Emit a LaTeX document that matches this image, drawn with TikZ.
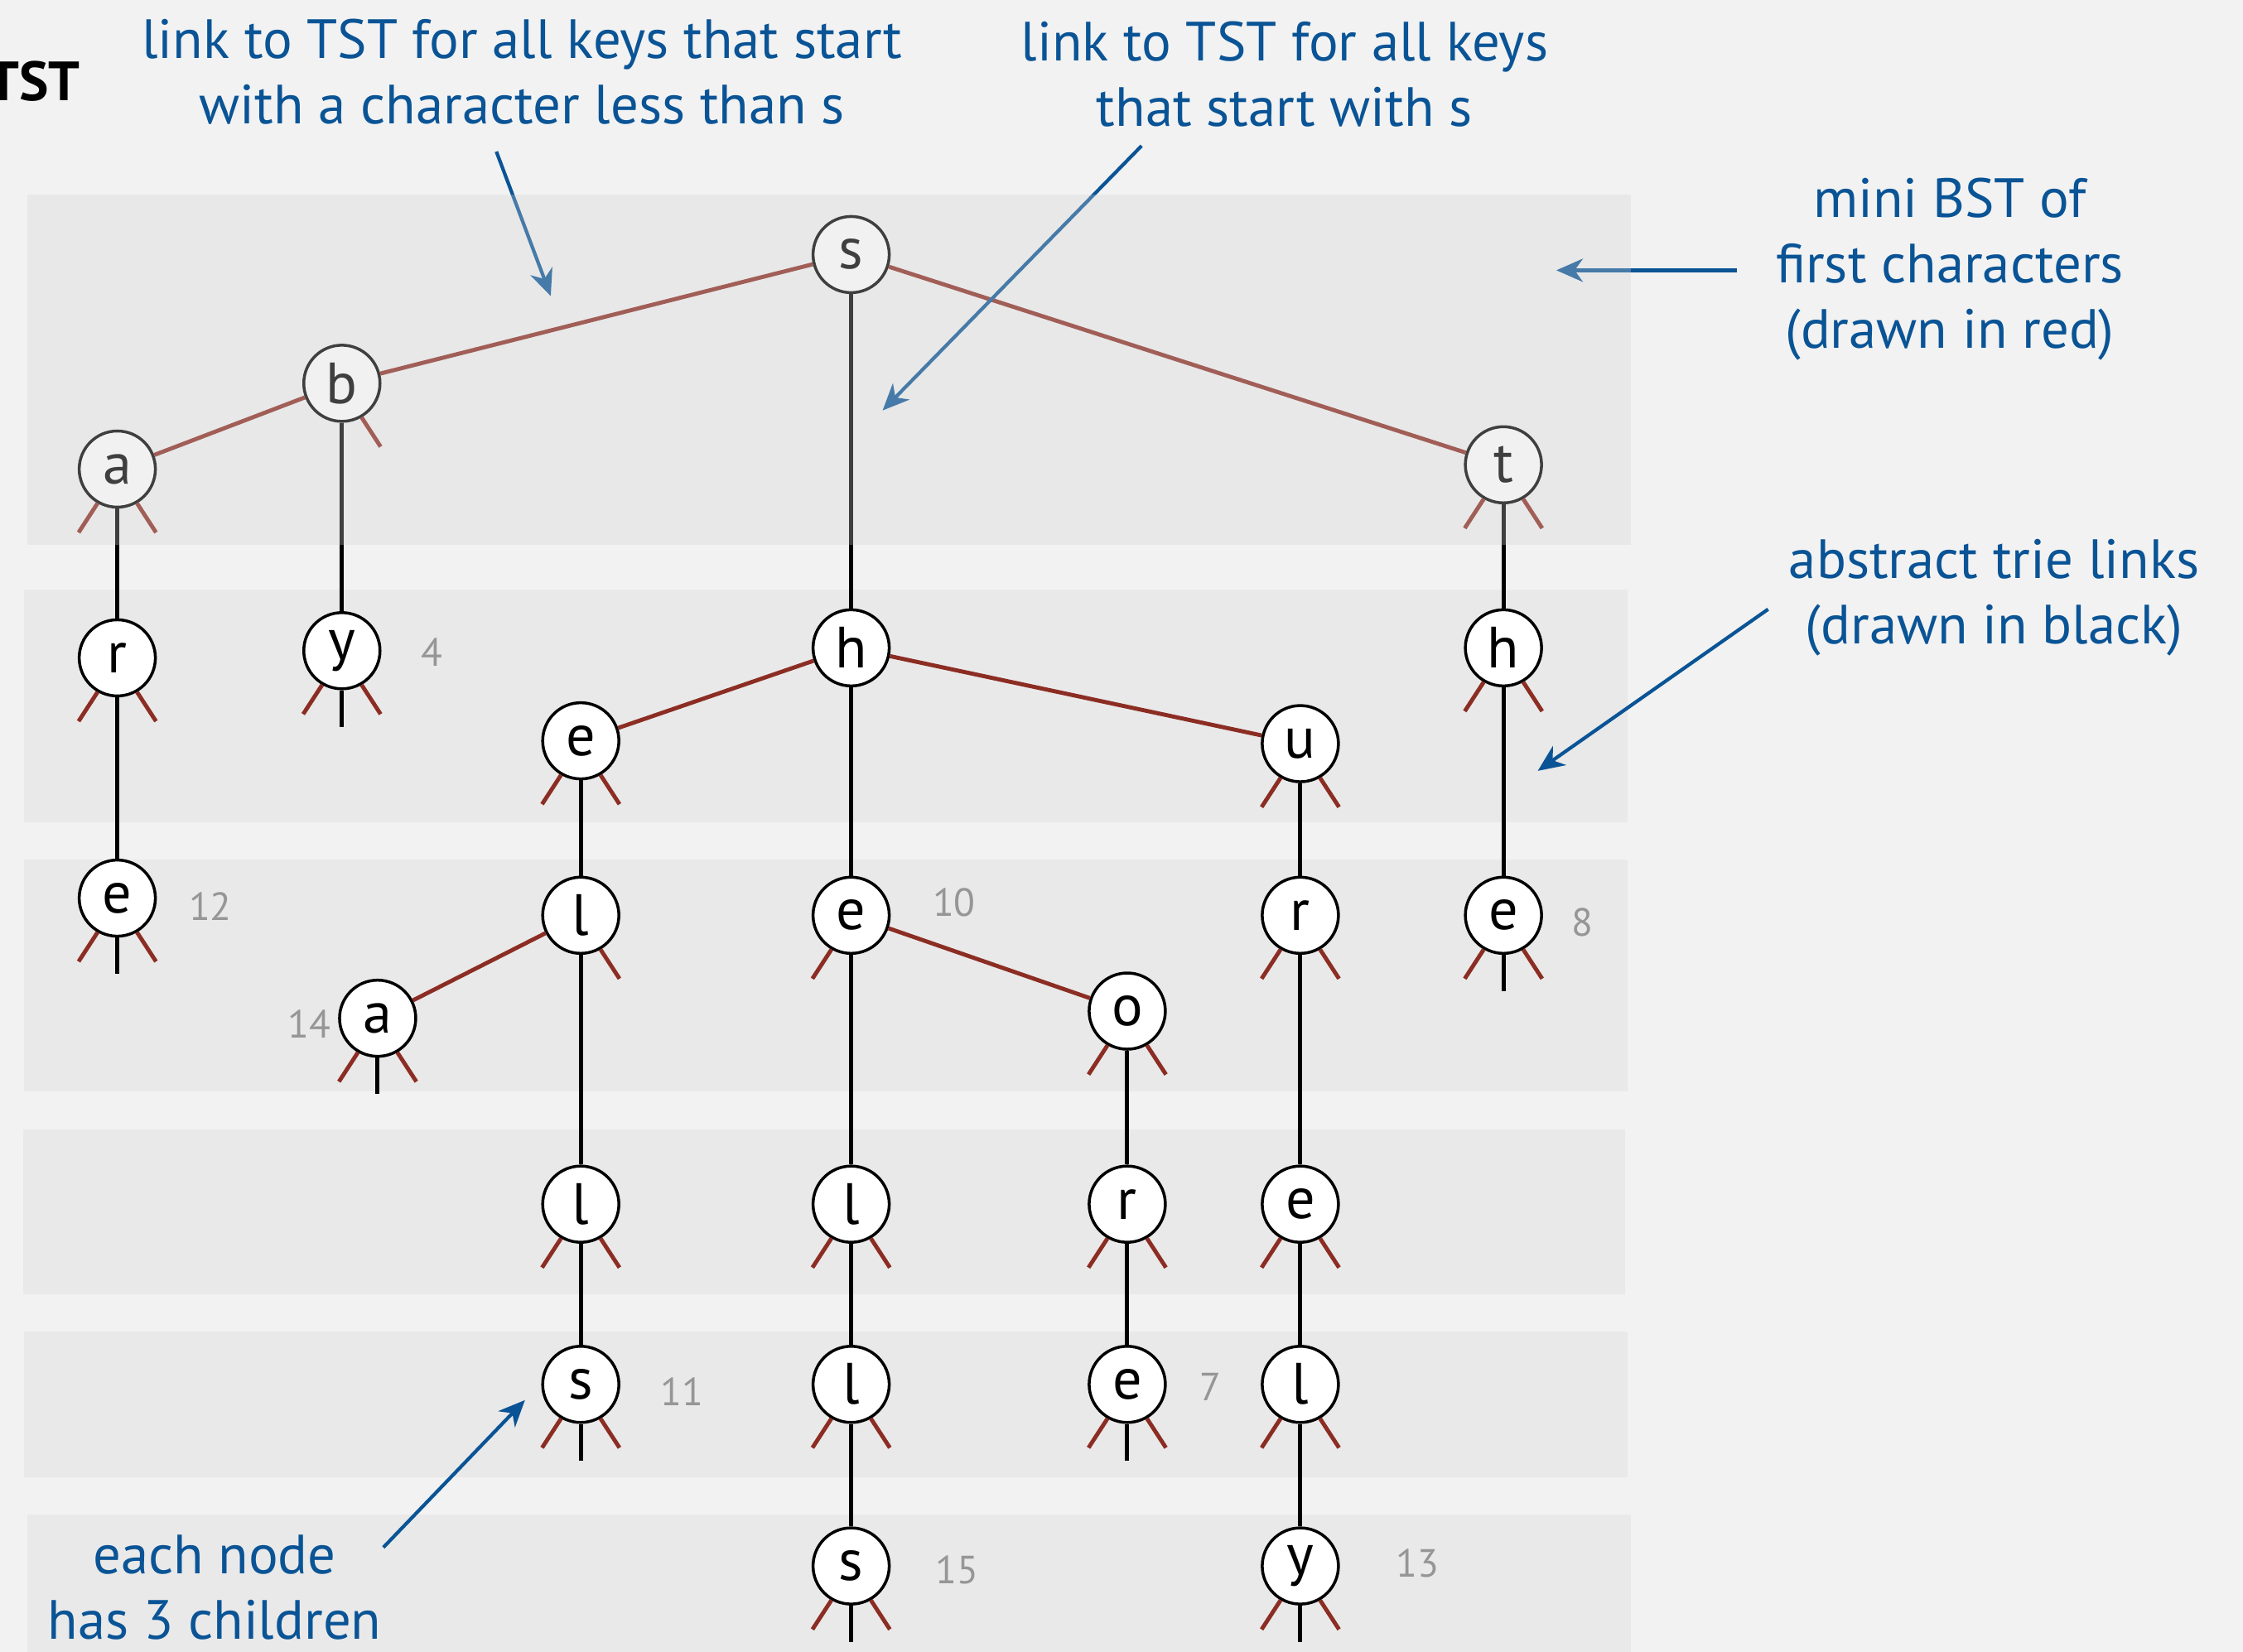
\documentclass[tikz,border=0pt]{standalone}
\usepackage{fontspec}
\setmainfont{PT Sans}
\usetikzlibrary{arrows.meta}

\definecolor{pagegray}{RGB}{242,242,242}
\definecolor{bandgray}{RGB}{233,233,233}
\definecolor{veilgray}{RGB}{210,210,210}
\definecolor{bstred}{RGB}{140,45,35}
\definecolor{noteblue}{RGB}{10,84,150}
\definecolor{valgray}{RGB}{150,150,150}

\tikzset{
  key/.style={circle, draw, line width=1pt, fill=white, minimum size=0.92cm,
    inner sep=0pt, font=\fontsize{20}{24}\selectfont},
  redlink/.style={bstred, line width=1.4pt},
  midlink/.style={black, line width=1.4pt},
  val/.style={valgray, font=\fontsize{13.5}{16}\selectfont},
  note/.style={noteblue, align=center, font=\fontsize{19}{22.5}\selectfont},
  notearrow/.style={noteblue, line width=1.2pt,
    -{Stealth[length=0.32cm,width=0.28cm,inset=0.1cm]}},
  band/.style={fill=bandgray, draw=none},
}

\begin{document}
\begin{tikzpicture}[x=0.01727cm, y=-0.01727cm]
    \useasboundingbox (0,0) rectangle (1568,1155);
    \fill[pagegray] (0,0) rectangle (1568,1155);

    % Draw the level bands
    \fill[band] (17,412) rectangle (1138,575);
    \fill[band] (17,601) rectangle (1138,763);
    \fill[band] (16,790) rectangle (1136,905);
    \fill[band] (17,931) rectangle (1138,1033);
    \fill[band] (19,1059) rectangle (1140,1160);

    % Draw the keys
    \node[key] (s) at (595,178) {s};
    \node[key] (b) at (239,268) {b};
    \node[key] (a) at (82,328) {a};
    \node[key] (t) at (1051,325) {t};
    \node[key] (ar) at (82,460) {r};
    \node[key] (by) at (239,455) {y};
    \node[key] (sh) at (595,453) {h};
    \node[key] (th) at (1051,453) {h};
    \node[key] (se) at (406,518) {e};
    \node[key] (su) at (909,520) {u};
    \node[key] (are) at (82,628) {e};
    \node[key] (sel) at (406,640) {l};
    \node[key] (she) at (595,640) {e};
    \node[key] (sur) at (909,640) {r};
    \node[key] (the) at (1051,640) {e};
    \node[key] (sea) at (264,712) {a};
    \node[key] (sho) at (788,707) {o};
    \node[key] (sell) at (406,842) {l};
    \node[key] (shel) at (595,842) {l};
    \node[key] (shor) at (788,842) {r};
    \node[key] (sure) at (909,842) {e};
    \node[key] (sells) at (406,968) {s};
    \node[key] (shell) at (595,968) {l};
    \node[key] (shore) at (788,968) {e};
    \node[key] (surel) at (909,968) {l};
    \node[key] (shells) at (595,1095) {s};
    \node[key] (surely) at (909,1095) {y};

    % Draw the values
    \node[val] (byv) at (302,456) {4};
    \node[val] (arev) at (147,634) {12};
    \node[val] (shev) at (667,631) {10};
    \node[val] (thev) at (1106,645) {8};
    \node[val] (seav) at (216,716) {14};
    \node[val] (sellsv) at (477,973) {11};
    \node[val] (shorev) at (846,970) {7};
    \node[val] (shellsv) at (669,1098) {15};
    \node[val] (surelyv) at (991,1093) {13};

    % Draw the left and right links
    \draw[redlink] (s) -- (b);
    \draw[redlink] (s) -- (t);
    \draw[redlink] (b) -- (a);
    \draw[redlink] (sh) -- (se);
    \draw[redlink] (sh) -- (su);
    \draw[redlink] (sel) -- (sea);
    \draw[redlink] (she) -- (sho);

    % Draw the middle links
    \draw[midlink] (s) -- (sh);
    \draw[midlink] (b) -- (by);
    \draw[midlink] (a) -- (ar);
    \draw[midlink] (ar) -- (are);
    \draw[midlink] (t) -- (th);
    \draw[midlink] (th) -- (the);
    \draw[midlink] (sh) -- (she);
    \draw[midlink] (se) -- (sel);
    \draw[midlink] (sel) -- (sell);
    \draw[midlink] (sell) -- (sells);
    \draw[midlink] (she) -- (shel);
    \draw[midlink] (shel) -- (shell);
    \draw[midlink] (shell) -- (shells);
    \draw[midlink] (sho) -- (shor);
    \draw[midlink] (shor) -- (shore);
    \draw[midlink] (su) -- (sur);
    \draw[midlink] (sur) -- (sure);
    \draw[midlink] (sure) -- (surel);
    \draw[midlink] (surel) -- (surely);

    % Draw null links
    \foreach \n in {a,t,ar,by,th,se,su,are,she,sur,the,sea,sho,sell,shel,shor,
                    sure,sells,shell,shore,surel,shells,surely}
        \draw[redlink] (\n.-120) -- ++(-123:0.42cm);
    \foreach \n in {b,a,t,ar,by,th,se,su,are,sel,sur,the,sea,sho,sell,shel,shor,
                    sure,sells,shell,shore,surel,shells,surely}
        \draw[redlink] (\n.-60) -- ++(-57:0.42cm);
    \foreach \n in {by,are,the,sea,sells,shore,shells,surely}
        \draw[midlink] (\n.south) -- ++(0,-0.44cm);

    % Draw the notes and their arrows
    \node[font=\bfseries\fontsize{19}{22}\selectfont, anchor=east] (title) at (63,57) {TST};
    \node[note] (lessnote) at (365,50) {link to TST for all keys that start\\with a character less than s};
    \node[note] (snote) at (898,52) {link to TST for all keys\\that start with s};
    \node[note] (bstnote) at (1363,188) {mini BST of\\first characters\\(drawn in red)};
    \node[note] (trienote) at (1394,418) {abstract trie links\\(drawn in black)};
    \node[note] (childnote) at (150,1110) {each node\\has 3 children};

    \coordinate (lessfrom) at (347,106);
    \coordinate (lessto) at (385,207);
    \coordinate (sfrom) at (798,102);
    \coordinate (sto) at (617,287);
    \coordinate (bstfrom) at (1214,189);
    \coordinate (bstto) at (1088,189);
    \coordinate (triefrom) at (1236,426);
    \coordinate (trieto) at (1075,539);
    \coordinate (childfrom) at (268,1082);
    \coordinate (childto) at (367,979);
    \draw[notearrow] (lessfrom) -- (lessto);
    \draw[notearrow] (sfrom) -- (sto);
    \draw[notearrow] (bstfrom) -- (bstto);
    \draw[notearrow] (triefrom) -- (trieto);
    \draw[notearrow] (childfrom) -- (childto);

    % Veil over the top band
    \fill[veilgray, fill opacity=0.3] (19,136) rectangle (1140,381);
\end{tikzpicture}
\end{document}
